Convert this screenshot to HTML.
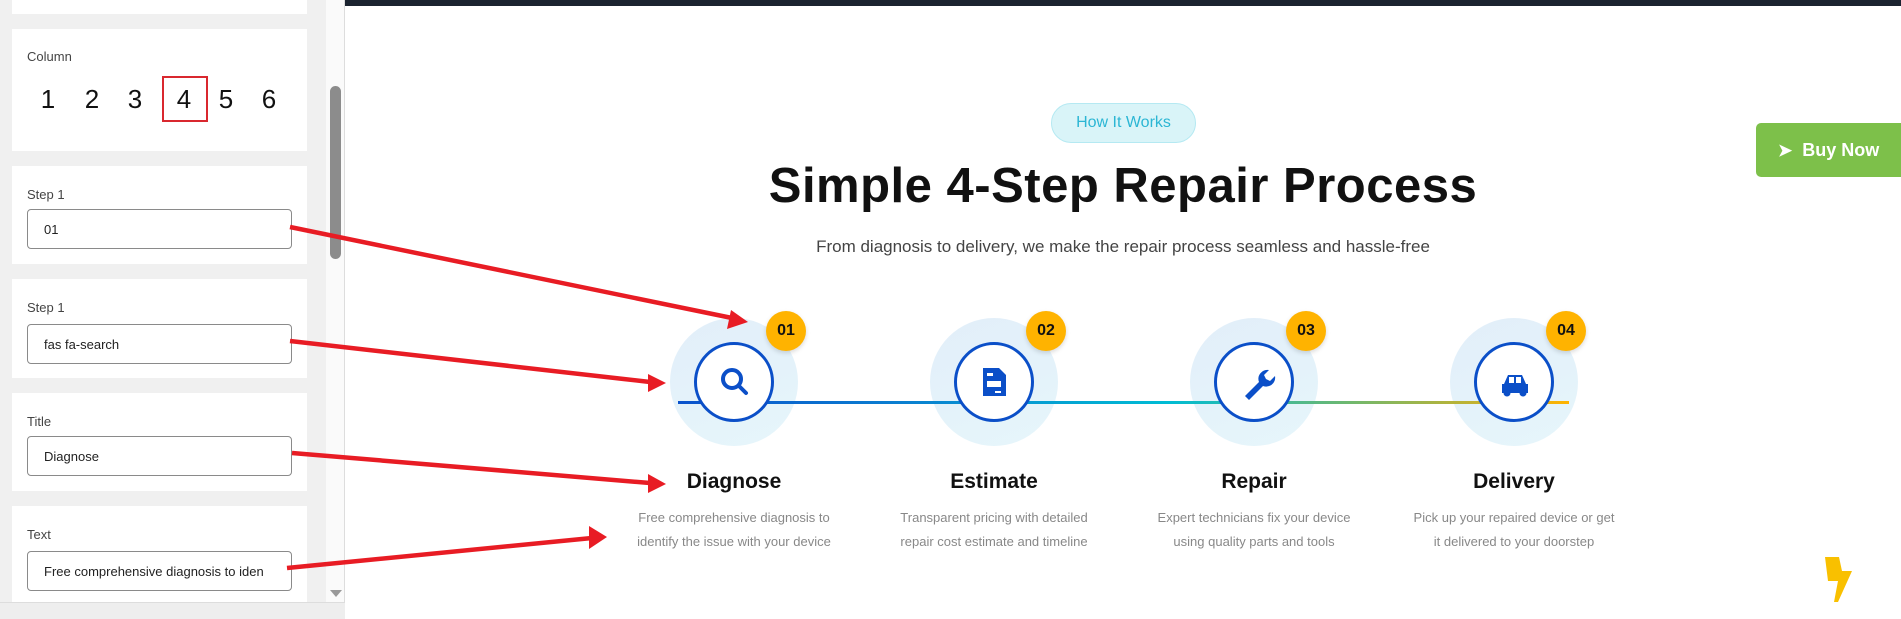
<!DOCTYPE html>
<html><head><meta charset="utf-8"><style>
*{margin:0;padding:0;box-sizing:border-box}
body{width:1901px;height:619px;overflow:hidden;background:#fff;font-family:"Liberation Sans",sans-serif;position:relative}
.a{position:absolute}
.card{position:absolute;left:12px;width:295px;background:#fff}
.lbl{position:absolute;left:15px;font-size:13px;color:#444}
.inp{position:absolute;left:15px;width:265px;height:40px;border:1px solid #8a8a8a;border-radius:4px;font-size:13px;color:#222;padding:12px 0 0 16px}
.num{position:absolute;font-size:26px;line-height:30px;color:#111;transform:translateX(-50%);top:55px}
.outer{position:absolute;width:128px;height:128px;border-radius:50%;background:linear-gradient(160deg,#e2eef9,#e6f6fb)}
.inner{position:absolute;width:80px;height:80px;border-radius:50%;background:#fff;border:3.5px solid #0b4fc8}
.badge{position:absolute;width:40px;height:40px;border-radius:50%;background:#ffb300;font-weight:bold;font-size:16px;text-align:center;line-height:40px;color:#111;box-shadow:0 2px 5px rgba(0,0,0,.15)}
.ttl{position:absolute;width:260px;text-align:center;font-size:21px;font-weight:bold;color:#111}
.dsc{position:absolute;width:260px;text-align:center;font-size:13px;color:#888;line-height:24px;white-space:nowrap}
</style></head><body>
<div class="a" style="left:0;top:0;width:326px;height:619px;background:#f0f0f0"></div>
<div class="a" style="left:326px;top:0;width:19px;height:619px;background:#fafafa;border-right:1px solid #ddd"></div>
<div class="a" style="left:330px;top:86px;width:11px;height:173px;background:#8c8c8c;border-radius:6px"></div>
<div class="a" style="left:330px;top:590px;width:0;height:0;border-left:6px solid transparent;border-right:6px solid transparent;border-top:7px solid #999"></div>
<div class="card" style="top:0;height:14px"></div>
<div class="card" style="top:29px;height:122px">
 <div class="lbl" style="top:20px">Column</div>
 <div class="num" style="left:36px">1</div><div class="num" style="left:80px">2</div><div class="num" style="left:123px">3</div><div class="num" style="left:172px">4</div><div class="num" style="left:214px">5</div><div class="num" style="left:257px">6</div>
 <div class="a" style="left:150px;top:47px;width:46px;height:46px;border:2px solid #d9282f"></div>
</div>
<div class="card" style="top:166px;height:98px"><div class="lbl" style="top:21px">Step 1</div><div class="inp" style="top:43px">01</div></div>
<div class="card" style="top:279px;height:99px"><div class="lbl" style="top:21px">Step 1</div><div class="inp" style="top:45px">fas fa-search</div></div>
<div class="card" style="top:393px;height:98px"><div class="lbl" style="top:21px">Title</div><div class="inp" style="top:43px">Diagnose</div></div>
<div class="card" style="top:506px;height:96px"><div class="lbl" style="top:21px">Text</div><div class="inp" style="top:45px">Free comprehensive diagnosis to iden</div></div>
<div class="a" style="left:0;top:602px;width:345px;height:17px;background:#eee;border-top:1px solid #ddd"></div>
<div class="a" style="left:345px;top:0;width:1556px;height:6px;background:#1b2330"></div>
<div class="a" style="left:1051px;top:103px;width:145px;height:40px;border-radius:20px;background:#d9f4f8;border:1px solid #b5e9f2;color:#2bb6d4;font-size:16px;text-align:center;line-height:38px">How It Works</div>
<div class="a" style="left:700px;top:158px;width:846px;text-align:center;font-size:49px;font-weight:bold;color:#111;letter-spacing:0.5px">Simple 4-Step Repair Process</div>
<div class="a" style="left:700px;top:237px;width:846px;text-align:center;font-size:17px;color:#444">From diagnosis to delivery, we make the repair process seamless and hassle-free</div>
<div class="a" style="left:1756px;top:123px;width:160px;height:54px;background:#7dc04a;border-radius:5px;color:#fff;font-weight:bold;font-size:18px;line-height:54px;padding-left:22px"><span style="font-size:17px">&#10148;</span>&nbsp; Buy Now</div>
<div class="outer" style="left:670px;top:318px"></div><div class="outer" style="left:930px;top:318px"></div><div class="outer" style="left:1190px;top:318px"></div><div class="outer" style="left:1450px;top:318px"></div>
<div class="a" style="left:678px;top:401px;width:891px;height:3px;background:linear-gradient(90deg,#0a52cc 0%,#0a7fd0 25%,#00bcd4 55%,#6db870 75%,#c6b22d 90%,#ffb300 100%)"></div>
<div class="inner" style="left:694px;top:342px"></div><div class="inner" style="left:954px;top:342px"></div><div class="inner" style="left:1214px;top:342px"></div><div class="inner" style="left:1474px;top:342px"></div>
<svg class="a" style="left:0;top:0" width="1901" height="619">
 <g fill="none" stroke="#0b4fc8" stroke-width="4" stroke-linecap="round"><circle cx="732" cy="379" r="9"/><line x1="739" y1="386" x2="746" y2="393"/></g>
 <g fill="#0b4fc8"><path d="M983 368h16l7 7v21h-23z"/><rect x="987" y="381" width="14" height="6" fill="#fff"/><rect x="987" y="373" width="6" height="3" fill="#fff"/><rect x="995" y="391" width="6" height="2" fill="#fff"/></g>
 <path d="M1245 396l14-14a9 9 0 0 1 10-12l-5 5 2 4 4 2 5-5a9 9 0 0 1-12 10l-14 14z" fill="#0b4fc8"/>
 <g fill="#0b4fc8"><path d="M1504 384l4-9h14l4 9h2v9h-26v-9z"/><rect x="1509" y="377" width="5" height="6" fill="#fff"/><rect x="1516" y="377" width="5" height="6" fill="#fff"/><circle cx="1507" cy="393" r="3.5"/><circle cx="1523" cy="393" r="3.5"/></g>
 <path d="M1825 557h14l3 14h10l-14 31h-4l4-21h-10z" fill="#f9c000"/>
 <g stroke="#e81c24" stroke-width="4.5" fill="#e81c24">
  <line x1="290" y1="227" x2="732" y2="318"/><polygon points="748,322 727,329 731,310" stroke="none"/>
  <line x1="290" y1="341" x2="650" y2="382"/><polygon points="666,383 648,374 648,392" stroke="none"/>
  <line x1="292" y1="453" x2="650" y2="483"/><polygon points="666,484 648,474 648,493" stroke="none"/>
  <line x1="287" y1="568" x2="592" y2="538"/><polygon points="607,537 589,526 589,549" stroke="none"/>
 </g>
</svg>
<div class="badge" style="left:766px;top:311px">01</div><div class="badge" style="left:1026px;top:311px">02</div><div class="badge" style="left:1286px;top:311px">03</div><div class="badge" style="left:1546px;top:311px">04</div>
<div class="ttl" style="left:604px;top:470px">Diagnose</div><div class="ttl" style="left:864px;top:470px">Estimate</div><div class="ttl" style="left:1124px;top:470px">Repair</div><div class="ttl" style="left:1384px;top:470px">Delivery</div>
<div class="dsc" style="left:604px;top:506px">Free comprehensive diagnosis to<br>identify the issue with your device</div>
<div class="dsc" style="left:864px;top:506px">Transparent pricing with detailed<br>repair cost estimate and timeline</div>
<div class="dsc" style="left:1124px;top:506px">Expert technicians fix your device<br>using quality parts and tools</div>
<div class="dsc" style="left:1384px;top:506px">Pick up your repaired device or get<br>it delivered to your doorstep</div>
</body></html>
